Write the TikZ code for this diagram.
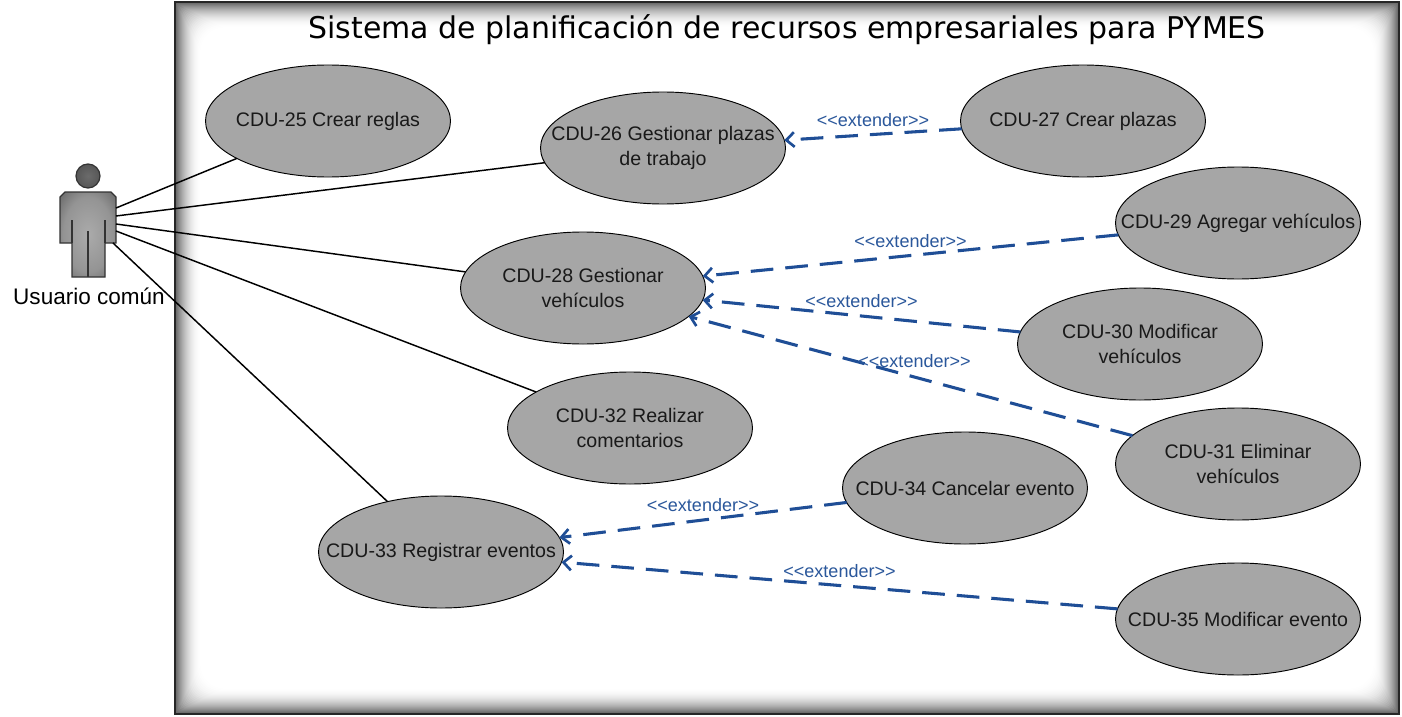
\documentclass[tikz,border=0pt]{standalone}
\usepackage{fontspec}
\setmainfont{Liberation Sans}
\newfontfamily\titlefont{DejaVu Sans}
\usetikzlibrary{shapes.geometric, arrows.meta}
\definecolor{casegray}{HTML}{A6A6A6}
\definecolor{extblue}{HTML}{1F4E96}
\pgfdeclareradialshading{actorbody}{\pgfpoint{0bp}{0bp}}{color(0bp)=(black!33); color(22bp)=(black!42); color(50bp)=(black!78)}
\pgfdeclareradialshading{actorhead}{\pgfpoint{0bp}{0bp}}{color(0bp)=(black!58); color(25bp)=(black!66); color(50bp)=(black!82)}
\tikzstyle{usecase} = [ellipse, minimum width=183.75pt, minimum height=84pt, inner xsep=-30pt, inner ysep=0pt, outer sep=0pt, align=center, draw=black, line width=0.7pt, fill=casegray, font=\fontsize{14.7}{19}\selectfont, text=black!90]
\tikzstyle{assoc} = [line width=1.1pt, draw=black]
\tikzstyle{extend} = [line width=2.3pt, draw=extblue, dash pattern=on 17pt off 9pt, -{Straight Barb[length=6pt,width=11pt,line width=2pt]}]
\tikzstyle{extlabel} = [midway, above=5pt, inner sep=0pt, text=extblue!95!white, font=\fontsize{13.5}{15}\selectfont]
\tikzstyle{actorpart} = [draw=black!80, line width=0.9pt]
\begin{document}
\begin{tikzpicture}[x=0.75pt, y=-0.75pt]
        \useasboundingbox (0,0) rectangle (1402,717);

        % frame with dark inner edge
        \foreach \i in {0,...,25} {
            \pgfmathsetmacro{\edge}{62*(1-\i/26)^2}
            \fill[black!\edge, rounded corners=\i*0.75pt] ({175+\i},{2+\i}) rectangle ({1399-\i},{714-\i});
        }
        \draw[black!85, line width=0.9pt] (175,2) rectangle (1399,714);
        \node (title) at (787,30) {\titlefont\fontsize{22.45}{26}\selectfont Sistema de planificación de recursos empresariales para PYMES};

        % actor
        \shade[actorpart, shading=actorhead] (88,176) circle (12);
        \shade[actorpart, shading=actorbody] (65,192) -- (111,192) -- (116,197) -- (116,243) -- (105,243) -- (105,277) -- (72,277) -- (72,243) -- (60,243) -- (60,197) -- cycle;
        \draw[black!80, line width=0.9pt] (72,220) -- (72,243) (105,220) -- (105,243) (88,231) -- (88,277);
        \node (usuario) at (89,296) {\fontsize{16.9}{20}\selectfont Usuario común};
        \coordinate (act25) at (116,208);
        \coordinate (act26) at (116,216);
        \coordinate (act28) at (116,224);
        \coordinate (act32) at (116,231);
        \coordinate (act33) at (113,243);

        % use cases
        \node (cdu25) [usecase] at (328,121) {CDU-25 Crear reglas};
        \node (cdu26) [usecase] at (663,148) {CDU-26 Gestionar plazas\\de trabajo};
        \node (cdu27) [usecase] at (1083,121) {CDU-27 Crear plazas};
        \node (cdu28) [usecase] at (583,288) {CDU-28 Gestionar\\vehículos};
        \node (cdu29) [usecase] at (1238,223) {CDU-29 Agregar vehículos};
        \node (cdu30) [usecase] at (1140,344) {CDU-30 Modificar\\vehículos};
        \node (cdu31) [usecase] at (1238,464) {CDU-31 Eliminar\\vehículos};
        \node (cdu32) [usecase] at (630,428) {CDU-32 Realizar\\comentarios};
        \node (cdu33) [usecase] at (441,552) {CDU-33 Registrar eventos};
        \node (cdu34) [usecase] at (965,488) {CDU-34 Cancelar evento};
        \node (cdu35) [usecase] at (1238,619) {CDU-35 Modificar evento};

        \draw[assoc] (act25) -- (cdu25);
        \draw[assoc] (act26) -- (cdu26);
        \draw[assoc] (act28) -- (cdu28);
        \draw[assoc] (act32) -- (cdu32);
        \draw[assoc] (act33) -- (cdu33);

        \draw[extend] (cdu27) -- node[extlabel] {<{}<extender>{}>} (cdu26);
        \draw[extend] (cdu29) -- node[extlabel] {<{}<extender>{}>} (cdu28);
        \draw[extend] (cdu30) -- node[extlabel] {<{}<extender>{}>} (cdu28);
        \draw[extend] (cdu31) -- node[extlabel, xshift=3pt] {<{}<extender>{}>} (cdu28);
        \draw[extend] (cdu34) -- node[extlabel] {<{}<extender>{}>} (cdu33);
        \draw[extend] (cdu35) -- node[extlabel] {<{}<extender>{}>} (cdu33);
    \end{tikzpicture}
\end{document}
